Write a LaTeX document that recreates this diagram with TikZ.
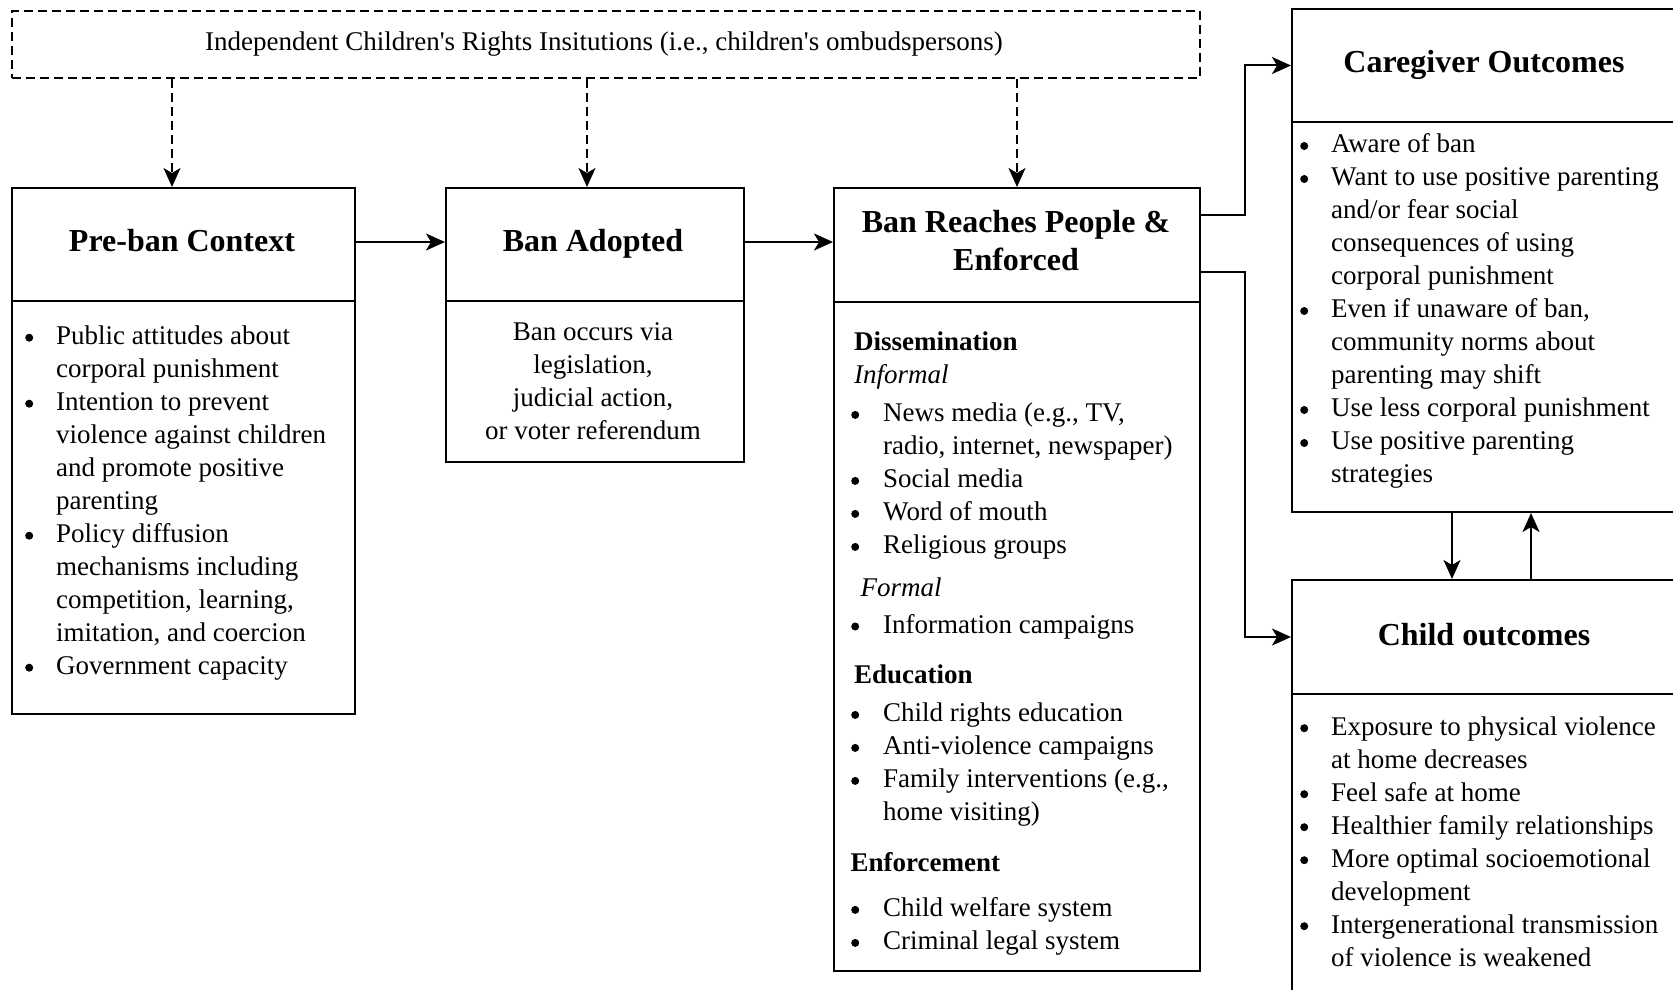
\documentclass[tikz,border=0pt]{standalone}
\usepackage{fontspec}
\setmainfont{Liberation Serif}
\usetikzlibrary{arrows.meta}
\newcommand\bul{\tikz[baseline={(0pt,-6.8pt)}]\fill (0pt,0pt) circle (4pt);}
\begin{document}
\begin{tikzpicture}[x=1pt,y=-1pt,
  box/.style={draw, line width=2pt, inner sep=0pt, anchor=north west},
  dbox/.style={box, dash pattern=on 9pt off 5pt},
  conn/.style={line width=2pt, -{Stealth[length=19pt,width=17pt,inset=5pt]}},
  dconn/.style={conn, dash pattern=on 9pt off 5pt},
  ttl/.style={anchor=base, inner sep=0pt, font=\fontsize{32}{37.5}\selectfont\bfseries},
  lst/.style={anchor=base west, inner sep=0pt, font=\fontsize{27}{33}\selectfont},
  hdr/.style={anchor=base west, inner sep=0pt, font=\fontsize{27}{33}\selectfont\bfseries},
  ital/.style={anchor=base west, inner sep=0pt, font=\fontsize{27}{33}\selectfont\itshape},
  ctr/.style={anchor=base, inner sep=0pt, font=\fontsize{27}{33}\selectfont}
]
\useasboundingbox (0,0) rectangle (1673,990);
\clip (0,0) rectangle (1673,990);

% top dashed box
\node[dbox, minimum width=1188pt, minimum height=67pt] (ichri) at (11,10) {};
\node[ctr] (ichrit) at (604,50.7) {Independent Children\textquotesingle s Rights Insitutions (i.e., children\textquotesingle s ombudspersons)};

% Pre-ban
\node[box, minimum width=343pt, minimum height=113pt] (prehead) at (11,187) {};
\node[box, minimum width=343pt, minimum height=413pt] (prebody) at (11,300) {};
\node[ttl] (pret) at (182,251.7) {Pre-ban Context};
\node[lst] (prel) at (25,344.5) {\begin{tabular}[t]{@{}p{31pt}@{}l@{}}
\bul & Public attitudes about\\
 & corporal punishment\\
\bul & Intention to prevent\\
 & violence against children\\
 & and promote positive\\
 & parenting\\
\bul & Policy diffusion\\
 & mechanisms including\\
 & competition, learning,\\
 & imitation, and coercion\\
\bul & Government capacity
\end{tabular}};

% Ban adopted
\node[box, minimum width=298pt, minimum height=113pt] (adhead) at (445,187) {};
\node[box, minimum width=298pt, minimum height=161pt] (adbody) at (445,300) {};
\node[ttl] (adt) at (593,251.7) {Ban Adopted};
\node[ctr] (adl) at (593,340.5) {\begin{tabular}[t]{@{}c@{}}
Ban occurs via\\ legislation,\\ judicial action,\\ or voter referendum
\end{tabular}};

% Ban reaches
\node[box, minimum width=366pt, minimum height=114pt] (rehead) at (833,187) {};
\node[box, minimum width=366pt, minimum height=669pt] (rebody) at (833,301) {};
\node[ttl] (ret) at (1016,232.7) {\begin{tabular}[t]{@{}c@{}}Ban Reaches People \&\\ Enforced\end{tabular}};
\node[hdr] (dis) at (854,350) {Dissemination};
\node[ital] (inf) at (854,383) {Informal};
\node[lst] (infl) at (851,421.7) {\begin{tabular}[t]{@{}p{32pt}@{}l@{}}
\bul & News media (e.g., TV,\\
 & radio, internet, newspaper)\\
\bul & Social media\\
\bul & Word of mouth\\
\bul & Religious groups
\end{tabular}};
\node[ital] (form) at (860.5,596.7) {Formal};
\node[lst] (forml) at (851,633.3) {\begin{tabular}[t]{@{}p{32pt}@{}l@{}}
\bul & Information campaigns
\end{tabular}};
\node[hdr] (edu) at (854,683.3) {Education};
\node[lst] (edul) at (851,721.7) {\begin{tabular}[t]{@{}p{32pt}@{}l@{}}
\bul & Child rights education\\
\bul & Anti-violence campaigns\\
\bul & Family interventions (e.g.,\\
 & home visiting)
\end{tabular}};
\node[hdr] (enf) at (850.5,871.7) {Enforcement};
\node[lst] (enfl) at (851,916.7) {\begin{tabular}[t]{@{}p{32pt}@{}l@{}}
\bul & Child welfare system\\
\bul & Criminal legal system
\end{tabular}};

% Caregiver outcomes
\node[box, minimum width=400pt, minimum height=113pt] (carehead) at (1291,8) {};
\node[box, minimum width=400pt, minimum height=390pt] (carebody) at (1291,121) {};
\node[ttl] (caret) at (1484,73) {Caregiver Outcomes};
\node[lst] (carel) at (1300,152.8) {\begin{tabular}[t]{@{}p{31pt}@{}l@{}}
\bul & Aware of ban\\
\bul & Want to use positive parenting\\
 & and/or fear social\\
 & consequences of using\\
 & corporal punishment\\
\bul & Even if unaware of ban,\\
 & community norms about\\
 & parenting may shift\\
\bul & Use less corporal punishment\\
\bul & Use positive parenting\\
 & strategies
\end{tabular}};

% Child outcomes
\node[box, minimum width=400pt, minimum height=114pt] (childhead) at (1291,579) {};
\node[box, minimum width=400pt, minimum height=320pt] (childbody) at (1291,693) {};
\node[ttl] (childt) at (1484,645) {Child outcomes};
\node[lst] (childl) at (1300,735) {\begin{tabular}[t]{@{}p{31pt}@{}l@{}}
\bul & Exposure to physical violence\\
 & at home decreases\\
\bul & Feel safe at home\\
\bul & Healthier family relationships\\
\bul & More optimal socioemotional\\
 & development\\
\bul & Intergenerational transmission\\
 & of violence is weakened
\end{tabular}};

% connectors
\draw[dconn] (ichri.south -| 172,0) -- (prehead.north -| 172,0);
\draw[dconn] (ichri.south -| 587,0) -- (adhead.north -| 587,0);
\draw[dconn] (ichri.south -| rehead.north) -- (rehead.north);
\draw[conn] (prehead.east |- 0,242) -- (adhead.west |- 0,242);
\draw[conn] (adhead.east |- 0,242) -- (rehead.west |- 0,242);
\draw[conn] (rehead.east |- 0,215) -- (1245,215) |- (carehead.west);
\draw[conn] (rehead.east |- 0,272) -- (1245,272) |- (childhead.west);
\draw[conn] (carebody.south -| 1452,0) -- (childhead.north -| 1452,0);
\draw[conn] (childhead.north -| 1531,0) -- (carebody.south -| 1531,0);
\end{tikzpicture}
\end{document}
